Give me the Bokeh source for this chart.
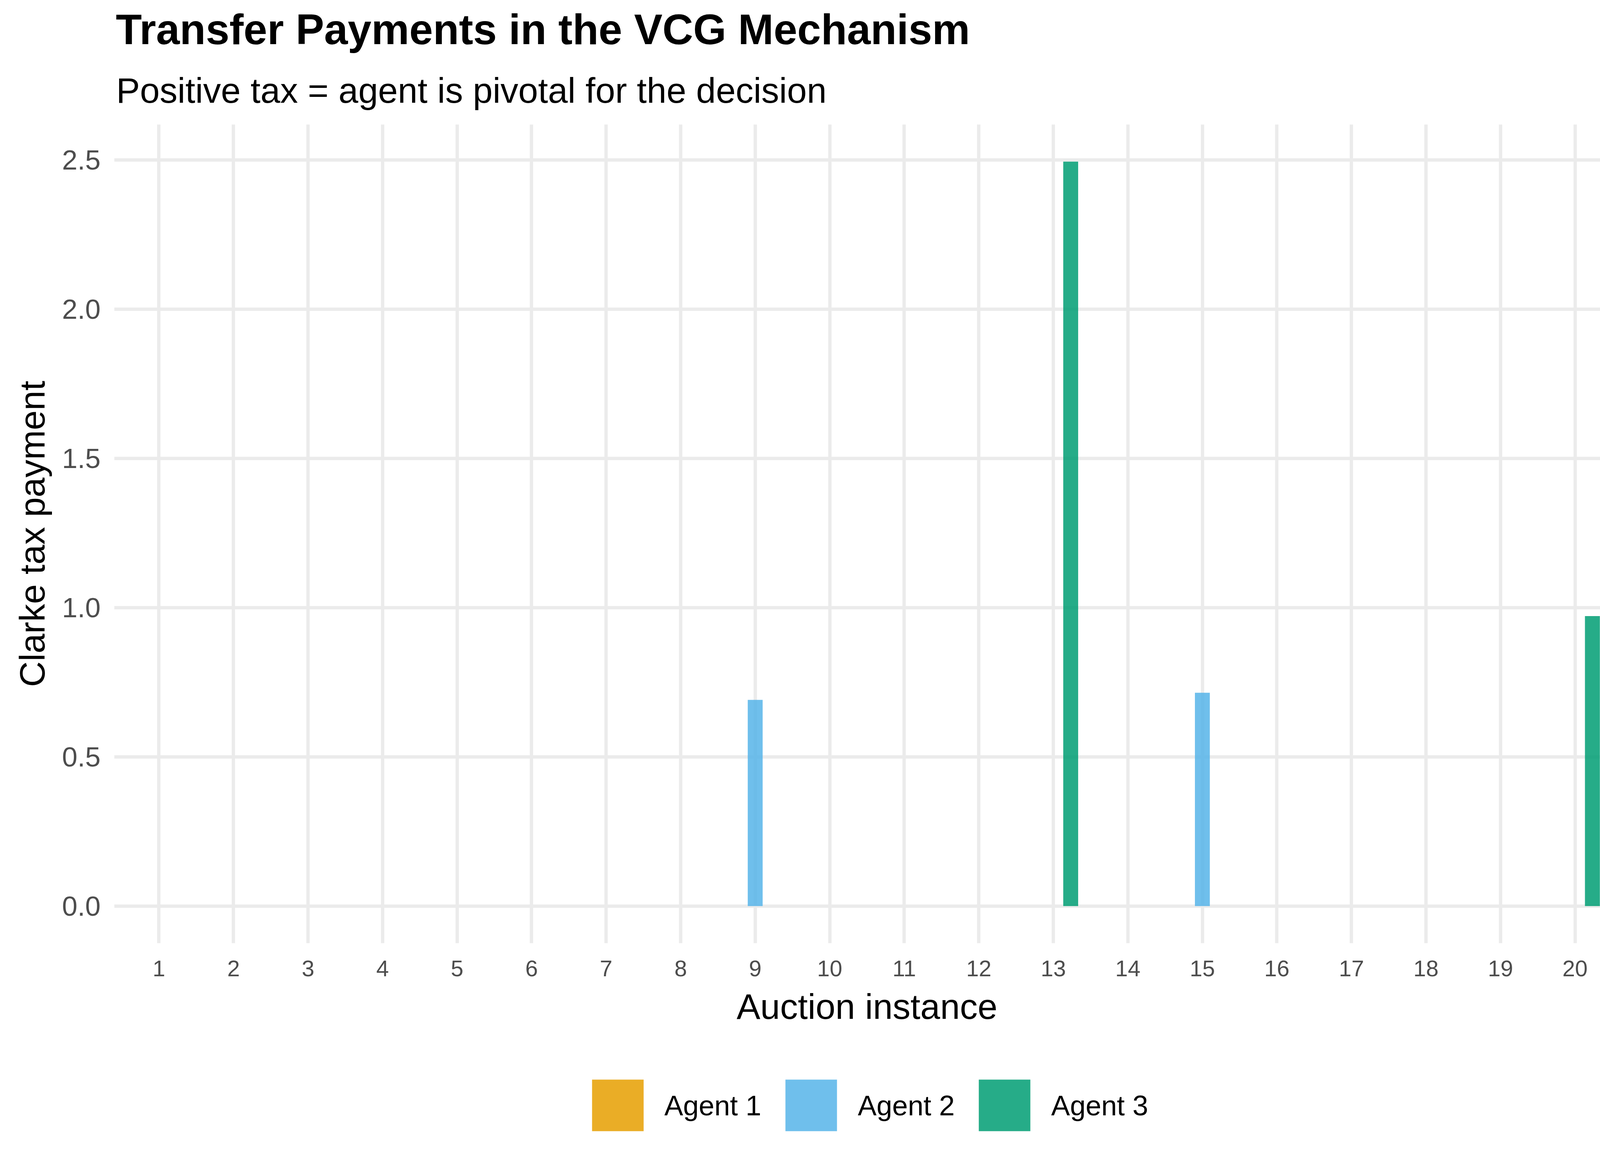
from bokeh.plotting import figure
from bokeh.layouts import column
from bokeh.models import Range1d, FixedTicker, Title, Legend, LegendItem, ColumnDataSource
from bokeh.transform import dodge
from bokeh.embed import file_html
from bokeh.resources import INLINE

# ---------------- data ----------------
instances = list(range(1, 21))
agents = ["Agent 1", "Agent 2", "Agent 3"]
agent_colors = ["#E69F00", "#56B4E9", "#009E73"]
agent1_tax = [0, 0, 0, 0, 0, 0, 0, 0, 0, 0, 0, 0, 0, 0, 0, 0, 0, 0, 0, 0]
agent2_tax = [0, 0, 0, 0, 0, 0, 0, 0, 0.691, 0, 0, 0, 0, 0, 0.715, 0, 0, 0, 0, 0]
agent3_tax = [0, 0, 0, 0, 0, 0, 0, 0, 0, 0, 0, 0, 2.495, 0, 0, 0, 0, 0, 0, 0.972]
x_tick_labels = [str(i) for i in instances]
y_ticks = [0, 0.5, 1.0, 1.5, 2.0, 2.5]
y_tick_labels = ["0.0", "0.5", "1.0", "1.5", "2.0", "2.5"]
dodge_offsets = [-0.2333, 0.0, 0.2333]

title_text = "Transfer Payments in the VCG Mechanism"
subtitle_text = "Positive tax = agent is pivotal for the decision"
x_title = "Auction instance"
y_title = "Clarke tax payment"

FONT = "Liberation Sans"

all_vals = agent1_tax + agent2_tax + agent3_tax
ymax = max(all_vals)
ymin = min(all_vals)
span = ymax - ymin
y_lo = ymin - 0.05 * span
y_hi = ymax + 0.05 * span

W = 4192
H_MAIN = 2700
H_LEG = 258

p = figure(width=W, height=H_MAIN, output_backend="svg", toolbar_location=None,
           x_range=Range1d(0.4, 20.6), y_range=Range1d(y_lo, y_hi),
           min_border_left=292, min_border_right=46, min_border_top=318,
           min_border_bottom=H_MAIN - 2414)
p.outline_line_color = None
p.background_fill_color = "white"
p.border_fill_color = "white"

# grids
for g in (p.xgrid, p.ygrid):
    g.grid_line_color = "#EBEBEB"
    g.grid_line_width = 8.5

# axes
for ax in (p.xaxis, p.yaxis):
    ax.axis_line_color = None
    ax.major_tick_line_color = None
    ax.minor_tick_line_color = None
    ax.major_tick_out = 0
    ax.major_tick_in = 0
    ax.major_label_text_font = FONT
    ax.major_label_text_color = "#4D4D4D"
    ax.axis_label_text_font = FONT
    ax.axis_label_text_font_style = "normal"
    ax.axis_label_text_color = "black"
    ax.axis_label_text_font_size = "91px"

p.xaxis.ticker = FixedTicker(ticks=instances)
p.xaxis.major_label_overrides = {i: lab for i, lab in zip(instances, x_tick_labels)}
p.xaxis.major_label_text_font_size = "58px"
p.xaxis.major_label_standoff = 44
p.xaxis.axis_label = x_title
p.xaxis.axis_label_standoff = 24

p.yaxis.ticker = FixedTicker(ticks=y_ticks)
p.yaxis.major_label_overrides = {t: lab for t, lab in zip(y_ticks, y_tick_labels)}
p.yaxis.major_label_text_font_size = "71px"
p.yaxis.major_label_standoff = 35
p.yaxis.axis_label = y_title
p.yaxis.axis_label_standoff = 23

# bars
series = [agent1_tax, agent2_tax, agent3_tax]
sources = []
for name, col, vals, off in zip(agents, agent_colors, series, dodge_offsets):
    src = ColumnDataSource(dict(instance=instances, tax=vals))
    sources.append(src)
    p.vbar(x=dodge("instance", off, range=p.x_range), top="tax", bottom=0,
           width=0.2, source=src, fill_color=col, fill_alpha=0.85,
           line_color=None)

# titles (subtitle first = closest to frame)
sub = Title(text=subtitle_text, text_font=FONT, text_font_size="91px",
            text_font_style="normal", text_color="black", align="left",
            standoff=74, offset=5)
p.add_layout(sub, "above")
main = Title(text=title_text, text_font=FONT, text_font_size="109px",
             text_font_style="bold", text_color="black", align="left",
             standoff=12, offset=4)
p.add_layout(main, "above")

# ---------------- legend strip below the chart ----------------
# The strip's ranges lie away from the data, so its bars stay out of view and
# only serve as legend keys.
pl = figure(width=W, height=H_LEG, output_backend="svg", toolbar_location=None,
            x_axis_location=None, y_axis_location=None,
            x_range=Range1d(0.4, 20.6), y_range=Range1d(100, 101),
            min_border_left=241, min_border_right=0, min_border_top=0,
            min_border_bottom=0)
pl.outline_line_color = None
pl.background_fill_color = "white"
pl.border_fill_color = "white"
pl.grid.visible = False
items = []
for name, col, src, off in zip(agents, agent_colors, sources, dodge_offsets):
    r = pl.vbar(x=dodge("instance", off, range=pl.x_range), top="tax", bottom=0,
                width=0.2, source=src, fill_color=col, fill_alpha=0.85,
                line_color=None)
    items.append(LegendItem(label=name, renderers=[r]))
legend = Legend(items=items, orientation="horizontal", location="center")
legend.glyph_width = 165
legend.glyph_height = 165
legend.label_standoff = 37
legend.spacing = 45
legend.label_text_font = FONT
legend.label_text_font_size = "72px"
legend.label_text_color = "black"
legend.border_line_color = None
legend.background_fill_alpha = 0
legend.padding = 0
legend.margin = 0
pl.add_layout(legend, "center")

layout = column(p, pl, spacing=0)
open("out.html", "w").write(file_html(layout, INLINE))
